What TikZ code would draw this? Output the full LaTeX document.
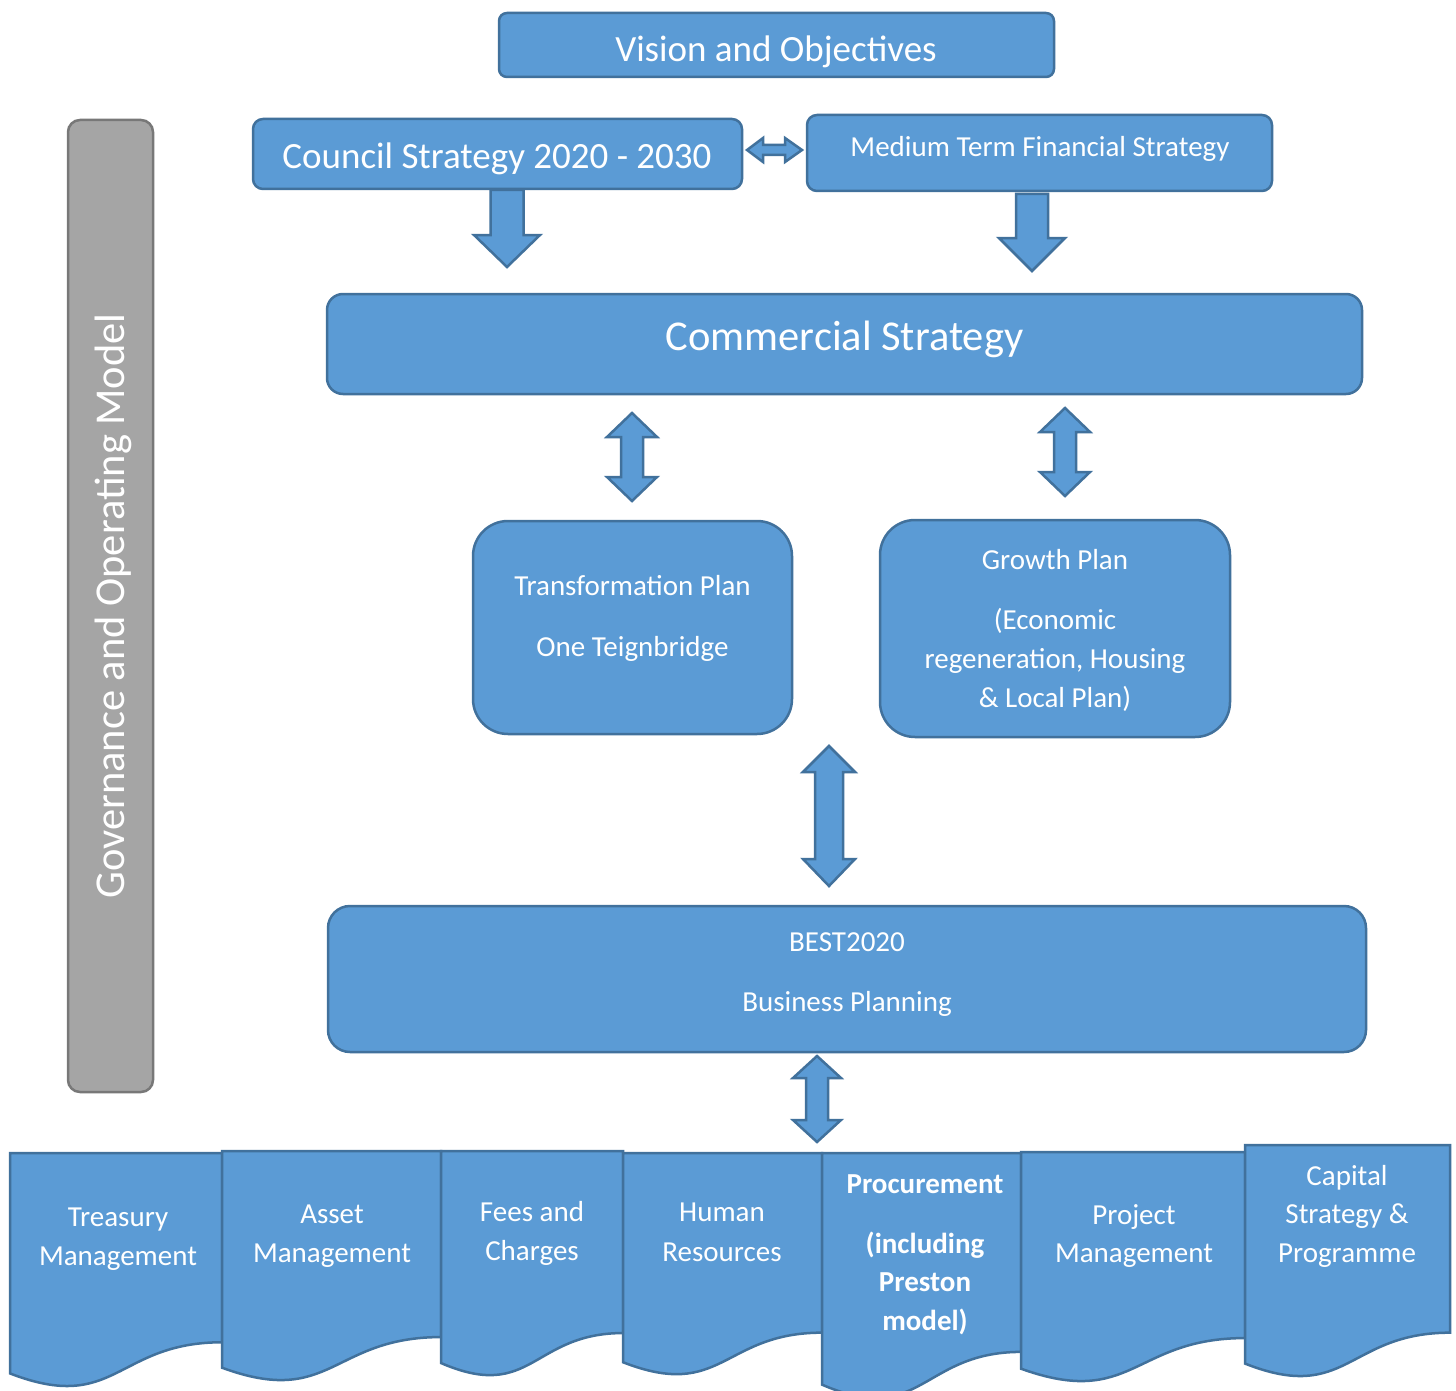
\documentclass[tikz,border=0pt]{standalone}
\usepackage{fontspec}
\setmainfont{Carlito}
\definecolor{bfill}{HTML}{5B9BD5}
\definecolor{bline}{HTML}{41719C}
\definecolor{gfill}{HTML}{A5A5A5}
\definecolor{gline}{HTML}{787878}
\tikzset{
  box/.style={draw=bline, fill=bfill, line width=2.5pt, inner sep=0pt},
  blk/.style={draw=bline, fill=bfill, line width=2.5pt, line join=miter},
  docbox/.style={draw=bline, fill=bfill, line width=2.5pt, line join=miter},
  txt/.style={text=white, inner sep=0pt, anchor=base},
  fbig/.style={font=\fontsize{42.5}{51}\selectfont},
  fmid/.style={font=\fontsize{37}{44}\selectfont},
  fsm/.style={font=\fontsize{29}{35}\selectfont},
  fsmb/.style={font=\fontsize{29}{35}\selectfont\bfseries},
}
% x, ytop, ybase, ytip, shafthalf, headhalf
\newcommand\DownBlk[6]{%
  \draw[blk] (#1-#5,#2) -- (#1+#5,#2) -- (#1+#5,#3) -- (#1+#6,#3) -- (#1,#4)
    -- (#1-#6,#3) -- (#1-#5,#3) -- cycle;}
% x, ytip1, ybase1, ybase2, ytip2, shafthalf, headhalf
\newcommand\VDblBlk[7]{%
  \draw[blk] (#1,#2) -- (#1+#7,#3) -- (#1+#6,#3) -- (#1+#6,#4) -- (#1+#7,#4) -- (#1,#5)
    -- (#1-#7,#4) -- (#1-#6,#4) -- (#1-#6,#3) -- (#1-#7,#3) -- cycle;}
% y, xtip1, xbase1, xbase2, xtip2, shafthalf, headhalf
\newcommand\HDblBlk[7]{%
  \draw[blk] (#2,#1) -- (#3,#1-#7) -- (#3,#1-#6) -- (#4,#1-#6) -- (#4,#1-#7) -- (#5,#1)
    -- (#4,#1+#7) -- (#4,#1+#6) -- (#3,#1+#6) -- (#3,#1+#7) -- cycle;}
% x0, x1, ytop, h
\newcommand\DocShape[4]{%
  \draw[docbox] (#1,#3) -- (#2,#3) -- (#2,#3+0.802*#4)
    .. controls ({(#1+#2)/2},#3+0.802*#4) and ({(#1+#2)/2},#3+1.1075*#4) .. (#1,#3+0.934*#4) -- cycle;}
\begin{document}
\begin{tikzpicture}[x=1pt,y=-1pt]
\useasboundingbox[fill=white] (0,0) rectangle (1456,1391);

% governance bar
\node[draw=gline, fill=gfill, line width=2.5pt, rounded corners=12pt, minimum width=85pt, minimum height=972pt] (gov) at (110.5,606) {};
\node[txt, fbig, rotate=90] (govT) at (124,606) {Governance and Operating Model};

% top boxes
\node[box, rounded corners=8pt, minimum width=555pt, minimum height=64pt] (vision) at (776.5,45) {};
\node[txt, fmid] (visionT) at (776,62) {Vision and Objectives};

\node[box, rounded corners=10pt, minimum width=489pt, minimum height=70pt] (council) at (497.5,154) {};
\node[txt, fmid] (councilT) at (497,169) {Council Strategy 2020 - 2030};

\node[box, rounded corners=10pt, minimum width=465pt, minimum height=76pt] (mtfs) at (1039.5,153) {};
\node[txt, fsm] (mtfsT) at (1040,157) {Medium Term Financial Strategy};

\node[box, rounded corners=16pt, minimum width=1035pt, minimum height=100pt] (comm) at (844.5,344) {};
\node[txt, fbig] (commT) at (844.5,350) {Commercial Strategy};

\node[box, rounded corners=35pt, minimum width=319pt, minimum height=213pt] (transf) at (632.5,627.5) {};
\node[txt, fsm] (transfT1) at (632.5,595) {Transformation Plan};
\node[txt, fsm] (transfT2) at (632.5,656) {One Teignbridge};

\node[box, rounded corners=35pt, minimum width=350pt, minimum height=217pt] (growth) at (1055,628.5) {};
\node[txt, fsm] (growthT1) at (1055,569) {Growth Plan};
\node[txt, fsm] (growthT2) at (1055,629) {(Economic};
\node[txt, fsm] (growthT3) at (1055,668) {regeneration, Housing};
\node[txt, fsm] (growthT4) at (1055,707) {\& Local Plan)};

\node[box, rounded corners=22pt, minimum width=1038pt, minimum height=146pt] (best) at (847,979) {};
\node[txt, fsm] (bestT1) at (847,951) {BEST2020};
\node[txt, fsm] (bestT2) at (847,1011) {Business Planning};

% block arrows
\HDblBlk{150}{747}{763}{785}{802}{5}{12}
\DownBlk{507}{190}{235}{267}{16.5}{33}
\DownBlk{1032}{194}{238}{271}{16}{33}
\VDblBlk{632}{413}{437}{477}{501}{11}{25}
\VDblBlk{1065}{408}{432}{472}{496}{11}{25}
\VDblBlk{829}{746}{772}{859}{886}{14}{26}
\VDblBlk{817}{1056}{1078}{1120}{1142}{11}{24}

% bottom document shapes
\DocShape{10}{222}{1153}{236}
\DocShape{222}{441}{1151}{232}
\DocShape{441}{623}{1151}{227}
\DocShape{623}{822}{1153}{224}
\DocShape{822}{1021}{1153}{248}
\DocShape{1021}{1245}{1152}{232}
\DocShape{1245}{1450}{1145}{234}

\node[txt, fsm] (treaT1) at (118,1226) {Treasury};
\node[txt, fsm] (treaT2) at (118,1265) {Management};
\node[txt, fsm] (assetT1) at (332,1223) {Asset};
\node[txt, fsm] (assetT2) at (332,1262) {Management};
\node[txt, fsm] (feesT1) at (532,1221) {Fees and};
\node[txt, fsm] (feesT2) at (532,1260) {Charges};
\node[txt, fsm] (humT1) at (722,1221) {Human};
\node[txt, fsm] (humT2) at (722,1261) {Resources};
\node[txt, fsmb] (procT1) at (925,1193) {Procurement};
\node[txt, fsmb] (procT2) at (925,1253) {(including};
\node[txt, fsmb] (procT3) at (925,1291) {Preston};
\node[txt, fsmb] (procT4) at (925,1330) {model)};
\node[txt, fsm] (projT1) at (1134,1224) {Project};
\node[txt, fsm] (projT2) at (1134,1262) {Management};
\node[txt, fsm] (capT1) at (1347,1185) {Capital};
\node[txt, fsm] (capT2) at (1347,1223) {Strategy \&};
\node[txt, fsm] (capT3) at (1347,1262) {Programme};
\end{tikzpicture}
\end{document}
